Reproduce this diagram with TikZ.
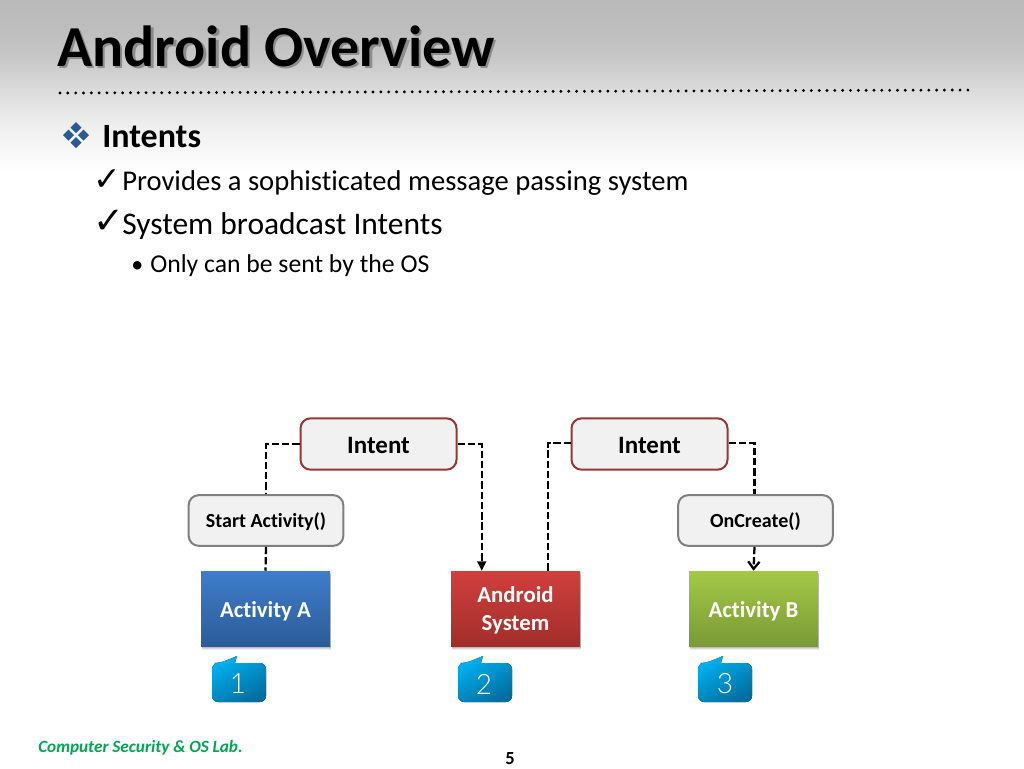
\documentclass[tikz,border=0pt]{standalone}
\usepackage{fontspec}
\setmainfont[Ligatures=NoCommon]{Carlito}
\newfontfamily\symfont{DejaVu Sans}
\newfontfamily\thinfont[UprightFont=* Light]{Lato}
\usetikzlibrary{shadows,calc,arrows.meta}
\newcommand{\pxf}[1]{\fontsize{\dimexpr #1pt*3/4\relax}{\dimexpr #1pt*9/10\relax}\selectfont}
\definecolor{boxfill}{HTML}{F1F1F1}
\definecolor{intentline}{HTML}{953735}
\definecolor{grayline}{HTML}{7F7F7F}
\definecolor{bul}{HTML}{2A5A94}
\definecolor{footgreen}{HTML}{00A651}
\definecolor{tagA}{HTML}{00B0F0}
\definecolor{tagB}{HTML}{006FA0}
\definecolor{blueA}{HTML}{3F7DCB}
\definecolor{blueB}{HTML}{2C5C98}
\definecolor{redA}{HTML}{D0403C}
\definecolor{redB}{HTML}{A32D2B}
\definecolor{greenA}{HTML}{A3C947}
\definecolor{greenB}{HTML}{7A9A36}
\pgfdeclareverticalshading{headfade}{100bp}{color(0bp)=(white);color(25bp)=(white);color(31.4bp)=(black!3);color(40.1bp)=(black!7.5);color(48.8bp)=(black!14);color(57.6bp)=(black!21.5);color(66.3bp)=(black!25.5);color(75bp)=(black!27);color(100bp)=(black!27)}
\tikzset{
 x=0.75pt,y=-0.75pt,
 txt/.style={inner sep=0pt,anchor=base west,text=black},
 intentbox/.style={draw=intentline,line width=1.5pt,fill=boxfill,rounded corners=7.5pt,minimum width=117pt,minimum height=38.5pt,inner sep=0pt,font=\pxf{25}\bfseries,text height=13.5pt,text depth=0pt},
 callbox/.style={draw=grayline,line width=1.5pt,fill=boxfill,rounded corners=7.5pt,minimum width=116pt,minimum height=38pt,inner sep=0pt,font=\pxf{20}\bfseries,text height=11pt,text depth=0pt},
 softshadow/.style={general shadow={shadow xshift=1pt,shadow yshift=-3pt,fill=black,opacity=.07},
   general shadow={shadow xshift=.8pt,shadow yshift=-2.2pt,fill=black,opacity=.09},
   general shadow={shadow xshift=.6pt,shadow yshift=-1.4pt,fill=black,opacity=.12}},
 actbox/.style={softshadow,minimum width=96.75pt,minimum height=56.25pt,inner sep=0pt,text=white,align=center,font=\pxf{22.8}\bfseries},
 oneline/.style={text height=13.5pt,text depth=0pt},
 twoline/.style={text depth=-1.5pt},
 conn/.style={draw=black,line width=1.7pt,dash pattern=on 5.5pt off 2.2pt},
 tag/.style={left color=tagA,right color=tagB,shading angle=30},
 tagnum/.style={inner sep=0pt,text=white,font=\thinfont\pxf{28}},
 dia/.style={fill=bul},
}
\begin{document}
\begin{tikzpicture}
\useasboundingbox (0,0) rectangle (1024,768);
\fill[white] (0,0) rectangle (1024,768);
\shade[shading=headfade] (0,0) rectangle (1024,172);
% title
\node[txt,text=black!60,opacity=.6] (titleshadow) at (59.5,68.5) {\pxf{58}\bfseries Android Overview};
\node[txt] (title) at (57,66) {\pxf{58}\bfseries Android Overview};
\coordinate (ruleL) at (60,93);
\coordinate (ruleR) at (970,90);
\draw[line width=2.4pt,line cap=round,dash pattern=on 0pt off 5.87pt,black] (ruleL) -- (ruleR);
% bullets
\fill[dia] (76,122) -- (81.5,127.5) -- (76,133) -- (70.5,127.5) -- cycle;
\fill[dia] (68.5,129.5) -- (74,135) -- (68.5,140.5) -- (63,135) -- cycle;
\fill[dia] (83.5,129.5) -- (89,135) -- (83.5,140.5) -- (78,135) -- cycle;
\fill[dia] (76,137) -- (81.5,142.5) -- (76,148) -- (70.5,142.5) -- cycle;
\node[txt] (t0) at (102,147) {\pxf{34}\bfseries Intents};
\node[txt] (b1) at (93,190) {\symfont\pxf{33}✓};
\node[txt] (t1) at (122,190) {\pxf{28.6}Provides a sophisticated message passing system};
\node[txt] (b2) at (93,233) {\symfont\pxf{37}✓};
\node[txt] (t2) at (122,234) {\pxf{31.5}System broadcast Intents};
\node[txt] (b3) at (131,272) {\pxf{24}•};
\node[txt] (t3) at (150,272) {\pxf{25.7}Only can be sent by the OS};
% boxes
\node[intentbox] (i1) at (378.5,444) {Intent};
\node[intentbox] (i2) at (649.5,444) {Intent};
\node[callbox] (sa) at (266,520.5) {Start Activity()};
\node[callbox] (oc) at (755.5,520.5) {OnCreate()};
\node[actbox,oneline,top color=blueA,bottom color=blueB] (aa) at (265.5,608.5) {Activity A};
\node[actbox,twoline,top color=redA,bottom color=redB] (sys) at (515.5,608.5) {Android\\[0.5pt]System};
\node[actbox,oneline,top color=greenA,bottom color=greenB] (ab) at (753.5,608.5) {Activity B};
% connectors
\coordinate (sysIn) at ($(sys.north west)+(31,0)$);
\coordinate (sysOut) at ($(sys.north west)+(97,0)$);
\coordinate (i2w) at ($(i2.west)+(0,-1)$);
\draw[conn] (i1.west) -| (sa.north);
\draw[conn] (sa.south) -- (aa.north);
\draw[conn,-{Stealth[length=7pt,width=6.5pt,inset=0pt]}] (i1.east) -| (sysIn);
\draw[conn] (sysOut) |- (i2w);
\coordinate (i2e) at ($(i2.east)+(0,-1)$);
\coordinate (ocT) at ($(oc.north)+(-1,0)$);
\coordinate (ocB) at ($(oc.south)+(-1,0)$);
\draw[conn] (i2e) -| (ocT);
\draw[conn,-{Straight Barb[length=5.5pt,width=8.5pt,line width=1.7pt]}] (ocB) -- (ab.north);
% tags
\fill[tag] (212,680) [rounded corners=4.5pt] -- (212,663) -- (220,663) [sharp corners] -- (237,656) -- (235,663) [rounded corners=4.5pt] -- (266,663) -- (266,702) -- (212,702) -- cycle;
\node[tagnum] (n1) at (238,684) {1};
\fill[tag] (458,680) [rounded corners=4.5pt] -- (458,663) -- (466,663) [sharp corners] -- (483,656) -- (481,663) [rounded corners=4.5pt] -- (512,663) -- (512,702) -- (458,702) -- cycle;
\node[tagnum] (n2) at (484,684) {2};
\fill[tag] (698,680) [rounded corners=4.5pt] -- (698,663) -- (706,663) [sharp corners] -- (723,656) -- (721,663) [rounded corners=4.5pt] -- (752,663) -- (752,702) -- (698,702) -- cycle;
\node[tagnum] (n3) at (725,684) {3};
% footer
\node[txt,text=footgreen] (foot) at (38,752) {\pxf{17.2}\bfseries\itshape Computer Security \& OS Lab.};
\node[txt] (page) at (505,764) {\pxf{18.5}\bfseries 5};
\end{tikzpicture}
\end{document}
